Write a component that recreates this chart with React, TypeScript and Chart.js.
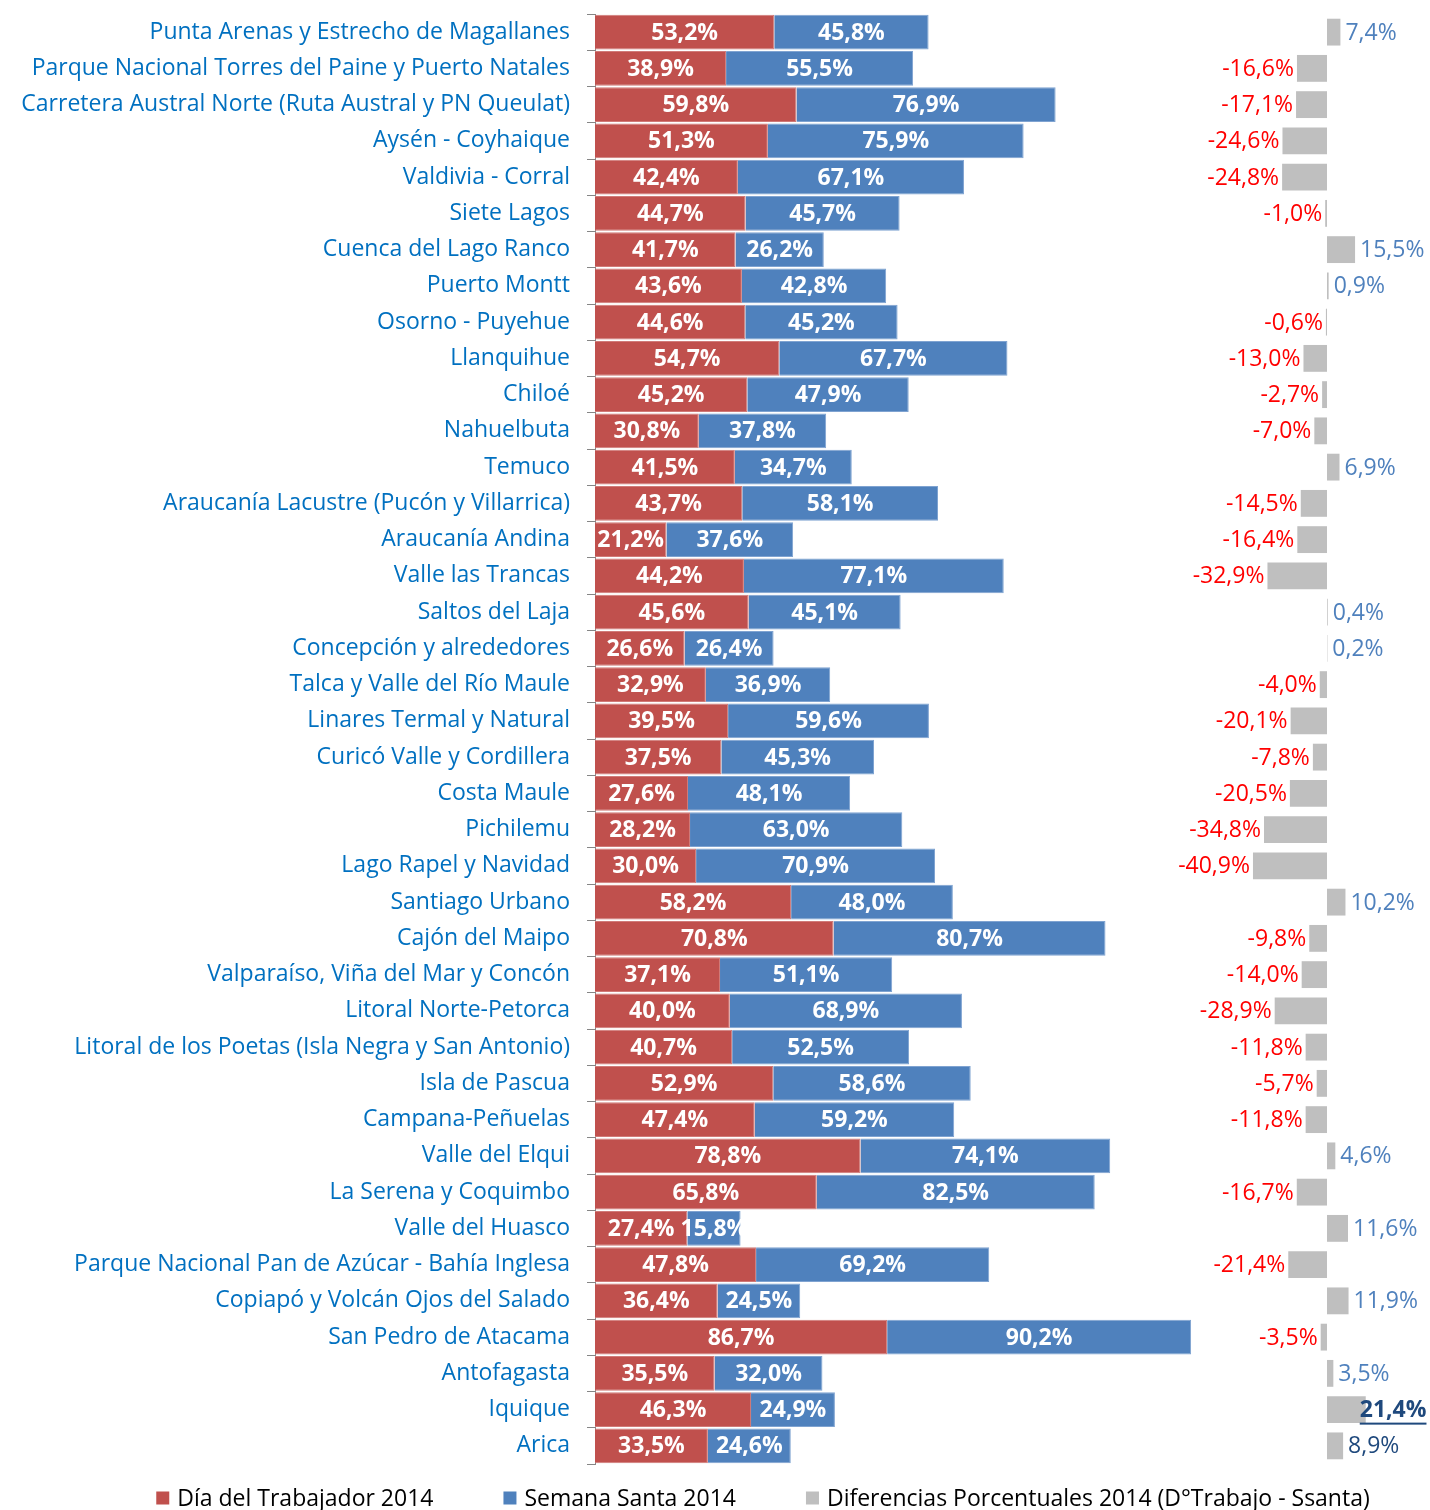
import React, { useEffect, useRef } from "react";
import { Chart, registerables } from "chart.js";

Chart.register(...registerables);

const categories = [
  "Punta Arenas y Estrecho de Magallanes",
  "Parque Nacional Torres del Paine y Puerto Natales",
  "Carretera Austral Norte (Ruta Austral y PN Queulat)",
  "Aysén - Coyhaique",
  "Valdivia - Corral",
  "Siete Lagos",
  "Cuenca del Lago Ranco",
  "Puerto Montt",
  "Osorno - Puyehue",
  "Llanquihue",
  "Chiloé",
  "Nahuelbuta",
  "Temuco",
  "Araucanía Lacustre (Pucón y Villarrica)",
  "Araucanía Andina",
  "Valle las Trancas",
  "Saltos del Laja",
  "Concepción y alrededores",
  "Talca y Valle del Río Maule",
  "Linares Termal y Natural",
  "Curicó Valle y Cordillera",
  "Costa Maule",
  "Pichilemu",
  "Lago Rapel y Navidad",
  "Santiago Urbano",
  "Cajón del Maipo",
  "Valparaíso, Viña del Mar y Concón",
  "Litoral Norte-Petorca",
  "Litoral de los Poetas (Isla Negra y San Antonio)",
  "Isla de Pascua",
  "Campana-Peñuelas",
  "Valle del Elqui",
  "La Serena y Coquimbo",
  "Valle del Huasco",
  "Parque Nacional Pan de Azúcar - Bahía Inglesa",
  "Copiapó y Volcán Ojos del Salado",
  "San Pedro de Atacama",
  "Antofagasta",
  "Iquique",
  "Arica",
];

const diaTrabajador2014 = [
  53.2, 38.9, 59.8, 51.3, 42.4, 44.7, 41.7, 43.6, 44.6, 54.7,
  45.2, 30.8, 41.5, 43.7, 21.2, 44.2, 45.6, 26.6, 32.9, 39.5,
  37.5, 27.6, 28.2, 30.0, 58.2, 70.8, 37.1, 40.0, 40.7, 52.9,
  47.4, 78.8, 65.8, 27.4, 47.8, 36.4, 86.7, 35.5, 46.3, 33.5,
];

const semanaSanta2014 = [
  45.8, 55.5, 76.9, 75.9, 67.1, 45.7, 26.2, 42.8, 45.2, 67.7,
  47.9, 37.8, 34.7, 58.1, 37.6, 77.1, 45.1, 26.4, 36.9, 59.6,
  45.3, 48.1, 63.0, 70.9, 48.0, 80.7, 51.1, 68.9, 52.5, 58.6,
  59.2, 74.1, 82.5, 15.8, 69.2, 24.5, 90.2, 32.0, 24.9, 24.6,
];

const diferencias2014 = [
  7.4, -16.6, -17.1, -24.6, -24.8, -1.0, 15.5, 0.9, -0.6, -13.0,
  -2.7, -7.0, 6.9, -14.5, -16.4, -32.9, 0.4, 0.2, -4.0, -20.1,
  -7.8, -20.5, -34.8, -40.9, 10.2, -9.8, -14.0, -28.9, -11.8, -5.7,
  -11.8, 4.6, -16.7, 11.6, -21.4, 11.9, -3.5, 3.5, 21.4, 8.9,
];

const seriesNames = [
  "Día del Trabajador 2014",
  "Semana Santa 2014",
  "Diferencias Porcentuales 2014 (D°Trabajo - Ssanta)",
];

// Labels in the difference column that the source styles differently
const emphasizedDiff = ["Iquique"];
const darkDiff = ["Arica"];

const FONT = "'Open Sans', Lato, sans-serif";
const FS = 23;
const RED = "#C0504D";
const BLUE = "#4F81BD";
const GRAY = "#BFBFBF";

const fmt = (v: number) => v.toFixed(1).replace(".", ",") + "%";

const labelPlugin = {
  id: "valueLabels",
  afterDatasetsDraw(chart: any) {
    const ctx = chart.ctx;
    ctx.save();
    ctx.textBaseline = "middle";
    [0, 1].forEach((di) => {
      const meta = chart.getDatasetMeta(di);
      const data = chart.data.datasets[di].data as number[];
      ctx.font = `bold ${FS}px ${FONT}`;
      ctx.fillStyle = "#FFFFFF";
      ctx.textAlign = "center";
      meta.data.forEach((bar: any, i: number) => {
        const cx = (bar.x + bar.base) / 2;
        ctx.fillText(fmt(data[i]), cx, bar.y + 1);
      });
    });
    const meta = chart.getDatasetMeta(2);
    const data = chart.data.datasets[2].data as number[];
    meta.data.forEach((bar: any, i: number) => {
      const v = data[i];
      const name = categories[i];
      const emph = emphasizedDiff.includes(name);
      const dark = darkDiff.includes(name) || emph;
      ctx.font = `${emph ? "bold " : ""}${FS}px ${FONT}`;
      const txt = fmt(v);
      if (v < 0) {
        ctx.fillStyle = "#FF0000";
        ctx.textAlign = "right";
        ctx.fillText(txt, Math.min(bar.x, bar.base) - 3, bar.y + 1);
      } else {
        ctx.fillStyle = dark ? "#1F497D" : BLUE;
        ctx.textAlign = "left";
        const x = Math.max(bar.x, bar.base) + (emph ? -6 : 5);
        ctx.fillText(txt, x, bar.y + 1);
        if (emph) {
          const w = ctx.measureText(txt).width;
          ctx.fillRect(x, bar.y + 13, w, 2);
        }
      }
    });
    ctx.restore();
  },
};

const legendPlugin = {
  id: "customLegend",
  afterDraw(chart: any) {
    const ctx = chart.ctx;
    ctx.save();
    ctx.font = `${FS}px ${FONT}`;
    ctx.textBaseline = "middle";
    ctx.textAlign = "left";
    const colors = [RED, BLUE, GRAY];
    const box = 13;
    const gapBox = 8;
    const gapItem = 70;
    const widths = seriesNames.map((t) => ctx.measureText(t).width);
    const total =
      widths.reduce((a, b) => a + b, 0) + seriesNames.length * (box + gapBox) + gapItem * (seriesNames.length - 1);
    let x = 763 - total / 2;
    const y = 1498;
    seriesNames.forEach((t, i) => {
      ctx.fillStyle = colors[i];
      ctx.fillRect(x, y - box / 2, box, box);
      x += box + gapBox;
      ctx.fillStyle = "#000000";
      ctx.fillText(t, x, y + 1);
      x += widths[i] + gapItem;
    });
    ctx.restore();
  },
};

export default function App() {
  const ref = useRef<HTMLCanvasElement | null>(null);

  useEffect(() => {
    if (!ref.current) return;
    const chart = new Chart(ref.current, {
      type: "bar",
      data: {
        labels: categories,
        datasets: [
          {
            label: seriesNames[0],
            data: diaTrabajador2014,
            backgroundColor: RED,
            borderColor: "#D07A78",
            borderWidth: 1,
            xAxisID: "x",
            barPercentage: 0.96,
            categoryPercentage: 1,
          },
          {
            label: seriesNames[1],
            data: semanaSanta2014,
            backgroundColor: BLUE,
            borderColor: "#7FA3D1",
            borderWidth: 1,
            xAxisID: "x",
            barPercentage: 0.96,
            categoryPercentage: 1,
          },
          {
            label: seriesNames[2],
            data: diferencias2014,
            backgroundColor: GRAY,
            borderWidth: 0,
            xAxisID: "x2",
            barPercentage: 0.74,
            categoryPercentage: 1,
          },
        ],
      },
      options: {
        indexAxis: "y",
        responsive: false,
        animation: false,
        layout: { padding: { top: 14, bottom: 46, left: 0, right: 0 } },
        plugins: {
          legend: { display: false },
          tooltip: { enabled: false },
        },
        scales: {
          x: {
            type: "linear",
            display: false,
            stacked: true,
            min: 0,
            max: 247.8,
          },
          x2: {
            type: "linear",
            display: false,
            min: -404.4,
            max: 56.9,
          },
          y: {
            type: "category",
            stacked: true,
            afterFit: (scale: any) => {
              scale.width = 595;
              scale.paddingTop = 0;
              scale.paddingBottom = 0;
            },
            ticks: {
              autoSkip: false,
              color: "#0070C0",
              font: { family: FONT, size: FS },
              padding: 17,
            },
            grid: {
              display: true,
              drawOnChartArea: false,
              drawTicks: true,
              tickLength: 8,
              color: "#868686",
              offset: true,
            },
            border: { display: true, color: "#868686", width: 1 },
          },
        },
      },
      plugins: [labelPlugin, legendPlugin],
    });
    return () => chart.destroy();
  }, []);

  return (
    <div style={{ position: "fixed", left: 0, top: 0, width: 1430, height: 1510, background: "#fff" }}>
      <canvas ref={ref} width={1430} height={1510} style={{ display: "block" }} />
    </div>
  );
}
